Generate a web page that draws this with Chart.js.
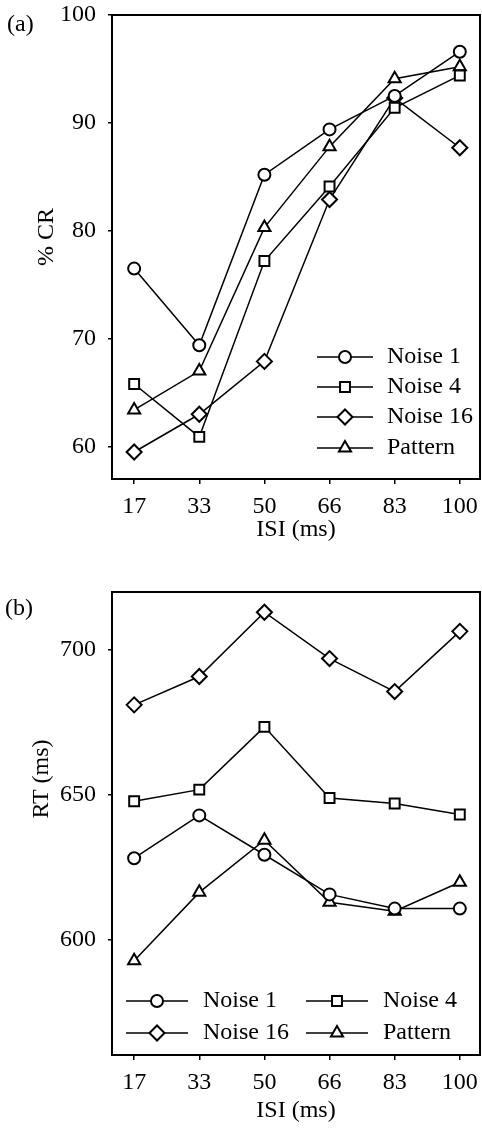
<!DOCTYPE html>
<html lang="en">
<head>
  <meta charset="UTF-8" />
  <title>CR and RT by ISI</title>
  <script src="https://cdn.jsdelivr.net/npm/chart.js"></script>
  <style>
    html, body { margin: 0; padding: 0; background: #fff; overflow: hidden; }
    .panel { position: relative; width: 482px; }
    .panel canvas { display: block; }
    .tag { position: absolute; font-family: "Liberation Serif", serif; font-size: 24px; line-height: 26px; }
  </style>
</head>
<body>
  <div class="panel" style="height:560px">
    <span class="tag" style="left:7px;top:10px">(a)</span>
    <canvas id="crChart"></canvas>
  </div>
  <div class="panel" style="height:573px">
    <span class="tag" style="left:5px;top:34px">(b)</span>
    <canvas id="rtChart"></canvas>
  </div>

  <script>
    const isi = ["17", "33", "50", "66", "83", "100"];
    const seriesNames = ["Noise 1", "Noise 4", "Noise 16", "Pattern"];
    const markers = ["circle", "rect", "rectRot", "triangle"];
    const radii = [6, 7, 7.5, 7];

    // (a) % CR
    const crNoise1 = [76.5, 69.4, 85.2, 89.4, 92.5, 96.6];
    const crNoise4 = [65.8, 60.9, 77.2, 84.1, 91.4, 94.4];
    const crNoise16 = [59.5, 63.0, 67.9, 82.9, 92.3, 87.7];
    const crPattern = [63.4, 67.0, 80.3, 87.8, 94.1, 95.2];
    const crTicks = [60, 70, 80, 90, 100];

    // (b) RT (ms)
    const rtNoise1 = [628.0, 642.8, 629.2, 615.5, 610.6, 610.6];
    const rtNoise4 = [647.7, 651.7, 673.4, 648.8, 646.9, 643.1];
    const rtNoise16 = [681.0, 690.8, 713.0, 697.0, 685.6, 706.4];
    const rtPattern = [592.6, 616.2, 634.2, 612.8, 609.7, 619.7];
    const rtTicks = [600, 650, 700];

    const FONT = "Liberation Serif";
    const FS = 24;

    // box around the plot
    const frame = {
      id: "frame",
      afterDraw(chart) {
        const { left, top, right, bottom } = chart.chartArea;
        const ctx = chart.ctx;
        ctx.save();
        ctx.strokeStyle = "#000";
        ctx.lineWidth = 2;
        ctx.strokeRect(left, top, right - left, bottom - top);
        ctx.restore();
      }
    };

    // legend with a line through the marker, drawn inside the plot
    const lineLegend = {
      id: "lineLegend",
      afterDraw(chart, args, o) {
        const ctx = chart.ctx;
        chart.data.datasets.forEach((ds, k) => {
          const p = o.items[k];
          ctx.save();
          ctx.strokeStyle = "#000";
          ctx.lineWidth = 1.5;
          ctx.beginPath();
          ctx.moveTo(p.x, p.y);
          ctx.lineTo(p.x + o.lineLen, p.y);
          ctx.stroke();
          ctx.fillStyle = "#fff";
          ctx.lineWidth = 2;
          Chart.helpers.drawPoint(ctx, { pointStyle: ds.pointStyle, radius: ds.pointRadius, borderWidth: 2, rotation: 0 }, p.x + o.lineLen / 2, p.y);
          ctx.fillStyle = "#000";
          ctx.font = FS + "px '" + FONT + "'";
          ctx.textBaseline = "middle";
          ctx.fillText(ds.label, p.x + o.lineLen + o.gap, p.y);
          ctx.restore();
        });
      }
    };

    // rotated y title at a fixed spot
    const yTitle = {
      id: "yTitle",
      afterDraw(chart, args, o) {
        const ctx = chart.ctx;
        ctx.save();
        ctx.translate(o.x, o.y);
        ctx.rotate(-Math.PI / 2);
        ctx.font = FS + "px '" + FONT + "'";
        ctx.fillStyle = "#000";
        ctx.textAlign = "center";
        ctx.textBaseline = "middle";
        ctx.fillText(o.text, 0, 0);
        ctx.restore();
      }
    };

    function makeChart(id, series, cfg) {
      return new Chart(document.getElementById(id), {
        type: "line",
        data: {
          datasets: series.map((vals, k) => ({
            label: seriesNames[k],
            data: vals.map((v, i) => ({ x: i, y: v })),
            borderColor: "#000",
            borderWidth: 1.5,
            pointStyle: markers[k],
            pointRadius: radii[k],
            pointBorderWidth: 2,
            pointBackgroundColor: "#fff",
            pointBorderColor: "#000",
            tension: 0
          }))
        },
        options: {
          responsive: true,
          maintainAspectRatio: false,
          animation: false,
          layout: { autoPadding: false, padding: { top: cfg.padTop, right: 2, left: 0, bottom: 0 } },
          plugins: {
            legend: { display: false },
            tooltip: { enabled: false },
            lineLegend: cfg.legend,
            yTitle: cfg.yTitle
          },
          scales: {
            x: {
              type: "linear",
              min: -0.34,
              max: 5.31,
              afterBuildTicks: s => { s.ticks = isi.map((_, i) => ({ value: i })); },
              afterFit: s => { s.height = cfg.xHeight; s.paddingLeft = 0; s.paddingRight = 0; },
              ticks: {
                callback: v => isi[v],
                color: "#000",
                font: { family: FONT, size: FS },
                padding: 8,
                maxRotation: 0
              },
              grid: { drawOnChartArea: false, drawTicks: true, tickLength: 5, color: "#000", lineWidth: 1.5 },
              border: { display: false },
              title: {
                display: true,
                text: "ISI (ms)",
                color: "#000",
                font: { family: FONT, size: FS },
                padding: { top: 0, bottom: cfg.xTitlePad }
              }
            },
            y: {
              min: cfg.yMin,
              max: cfg.yMax,
              afterBuildTicks: s => { s.ticks = cfg.yTicks.map(v => ({ value: v })); },
              afterFit: s => { s.width = 112; s.paddingTop = 0; s.paddingBottom = 0; },
              ticks: {
                color: "#000",
                font: { family: FONT, size: FS },
                padding: 12
              },
              grid: { drawOnChartArea: false, drawTicks: true, tickLength: 4, color: "#000", lineWidth: 1.5 },
              border: { display: false }
            }
          }
        },
        plugins: [frame, lineLegend, yTitle]
      });
    }

    makeChart("crChart", [crNoise1, crNoise4, crNoise16, crPattern], {
      padTop: 15,
      xHeight: 81,
      xTitlePad: 16,
      yMin: 57,
      yMax: 100,
      yTicks: crTicks,
      yTitle: { text: "% CR", x: 47, y: 237 },
      legend: {
        lineLen: 56,
        gap: 14,
        items: [{ x: 317, y: 357 }, { x: 317, y: 387 }, { x: 317, y: 417 }, { x: 317, y: 448 }]
      }
    });

    makeChart("rtChart", [rtNoise1, rtNoise4, rtNoise16, rtPattern], {
      padTop: 32,
      xHeight: 78,
      xTitlePad: 8,
      yMin: 560,
      yMax: 720,
      yTicks: rtTicks,
      yTitle: { text: "RT (ms)", x: 42, y: 219 },
      legend: {
        lineLen: 62,
        gap: 15,
        items: [{ x: 126, y: 441 }, { x: 306, y: 441 }, { x: 126, y: 473 }, { x: 306, y: 473 }]
      }
    });
  </script>
</body>
</html>
